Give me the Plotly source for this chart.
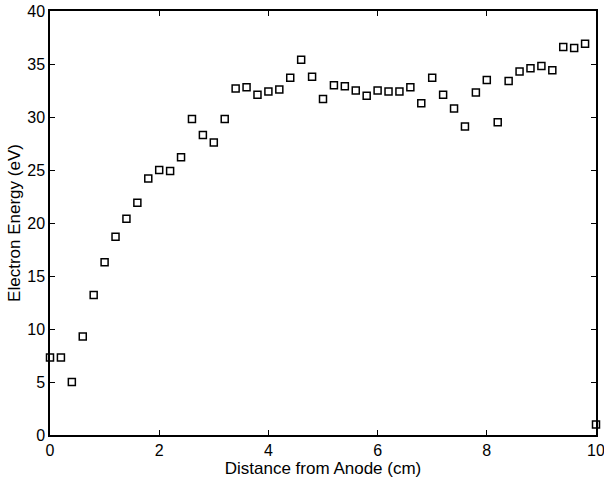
import plotly.graph_objects as go

distance_cm = [round(0.2 * i, 1) for i in range(51)]
energy_ev = [7.3, 7.3, 5.0, 9.3, 13.2, 16.3, 18.7,
             20.4, 21.9, 24.2, 25.0, 24.9, 26.2, 29.8, 28.3, 27.6, 29.8,
             32.7, 32.8, 32.1, 32.4, 32.6, 33.7, 35.4, 33.8,
             31.7, 33.0, 32.9, 32.5, 32.0, 32.5, 32.4, 32.4, 32.8, 31.3,
             33.7, 32.1, 30.8, 29.1, 32.3, 33.5, 29.5, 33.4, 34.3, 34.6,
             34.8, 34.4, 36.6, 36.5, 36.9, 1.0]
x_ticks = [0, 2, 4, 6, 8, 10]
y_ticks = [0, 5, 10, 15, 20, 25, 30, 35, 40]

fig = go.Figure()
fig.add_trace(go.Scatter(
    x=distance_cm, y=energy_ev, mode="markers",
    marker=dict(symbol="square-open", size=7, color="black", line=dict(width=1.5, color="black")),
    showlegend=False, cliponaxis=False,
))

axis_common = dict(
    showline=True, linecolor="black", linewidth=1.5, mirror="ticks",
    ticks="inside", ticklen=5, tickcolor="black", tickwidth=1,
    showgrid=False, zeroline=False, automargin=False, ticklabeloverflow="allow",
    tickfont=dict(family="Liberation Sans, Arial, sans-serif", size=16, color="black"),
)

fig.update_layout(
    width=604, height=478,
    margin=dict(l=50, r=8, t=11, b=43),
    paper_bgcolor="white", plot_bgcolor="white",
    font=dict(family="Liberation Sans, Arial, sans-serif", size=16, color="black"),
    xaxis=dict(range=[0, 10], tickvals=x_ticks,
               title=dict(text="Distance from Anode (cm)", font=dict(size=17), standoff=2),
               **axis_common),
    yaxis=dict(range=[0, 40], tickvals=y_ticks,
               title=dict(text="Electron Energy (eV)", font=dict(size=17), standoff=2),
               **axis_common),
)

fig.write_html("out.html")
